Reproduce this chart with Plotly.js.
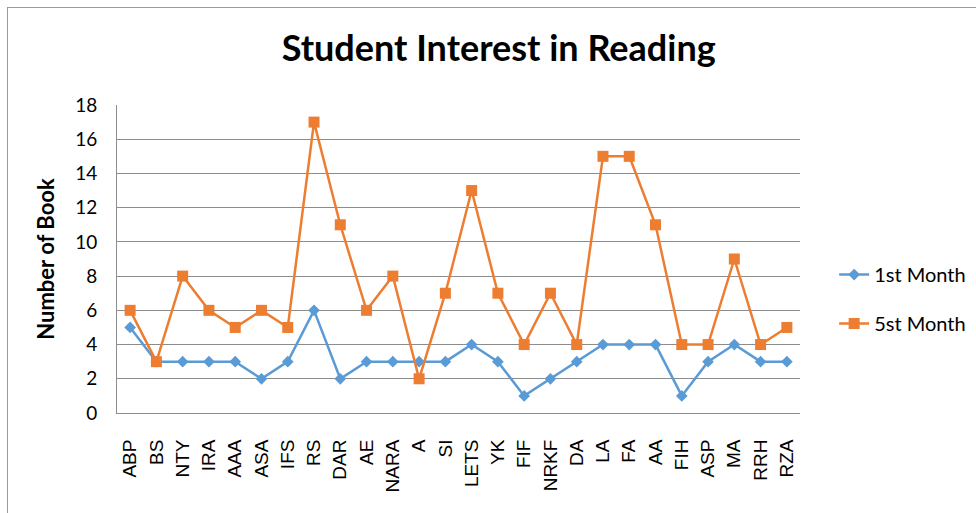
<!DOCTYPE html>
<html>
<head>
<meta charset="utf-8">
<script src="https://cdn.plot.ly/plotly-3.0.1.min.js"></script>
<style>
html,body{margin:0;padding:0;background:#fff;}
#wrap{position:relative;width:976px;height:513px;overflow:hidden;}
#chart{position:absolute;left:0;top:0;width:976px;height:513px;}
#frame{position:absolute;left:7px;top:7px;width:1000px;height:1000px;border-left:1px solid #9a9a9a;border-top:1px solid #9a9a9a;pointer-events:none;}
</style>
</head>
<body>
<div id="wrap"><div id="chart"></div><div id="frame"></div></div>
<script>
const categories = ["ABP","BS","NTY","IRA","AAA","ASA","IFS","RS","DAR","AE","NARA","A","SI","LETS","YK","FIF","NRKF","DA","LA","FA","AA","FIH","ASP","MA","RRH","RZA"];
const month1 = [5,3,3,3,3,2,3,6,2,3,3,3,3,4,3,1,2,3,4,4,4,1,3,4,3,3];
const month5 = [6,3,8,6,5,6,5,17,11,6,8,2,7,13,7,4,7,4,15,15,11,4,4,9,4,5];
const yTicks = [0,2,4,6,8,10,12,14,16,18];

const traces = [
  {x: categories, y: month1, name: "1st Month", type: "scatter", mode: "lines+markers",
   legendgroup: "a",
   line: {color: "#5B9BD5", width: 2.5},
   marker: {symbol: "diamond", size: 9, color: "#5B9BD5"}},
  {x: categories, y: month5, name: "5st Month", type: "scatter", mode: "lines+markers",
   legendgroup: "b",
   line: {color: "#ED7D31", width: 2.5},
   marker: {symbol: "square", size: 11, color: "#ED7D31"}}
];

const layout = {
  width: 976, height: 513,
  margin: {l: 117, r: 176, t: 105, b: 100, autoexpand: false},
  paper_bgcolor: "#ffffff", plot_bgcolor: "#ffffff",
  title: {text: "<b>Student Interest in Reading</b>", x: 0.511, xanchor: "center", y: 0.905, yanchor: "middle",
          font: {family: "Lato, 'Open Sans', sans-serif", size: 36, color: "#000"}},
  xaxis: {type: "category", range: [-0.5, 25.5], tickangle: -90, showgrid: false, automargin: false,
          showline: true, linecolor: "#8c8c8c", linewidth: 1, ticks: "", zeroline: false,
          ticklabelstandoff: 18,
          tickfont: {family: "'Liberation Sans', Arial, sans-serif", size: 19, color: "#000"}},
  yaxis: {range: [0, 18], tickvals: yTicks, showgrid: true, gridcolor: "#8c8c8c", gridwidth: 1, automargin: false,
          showline: true, linecolor: "#8c8c8c", linewidth: 1, zeroline: false, ticks: "",
          ticklen: 0, ticklabelstandoff: 15,
          tickfont: {family: "Lato, 'Open Sans', sans-serif", size: 19, color: "#000"},
          title: {text: "<b>Number of Book</b>", standoff: 14,
                  font: {family: "Lato, 'Open Sans', sans-serif", size: 22, color: "#000"}}},
  legend: {x: 1.05, xanchor: "left", y: 0.37, yanchor: "middle", tracegroupgap: 20,
           font: {family: "Lato, 'Open Sans', sans-serif", size: 20, color: "#000"},
           bgcolor: "rgba(0,0,0,0)"},
  showlegend: true
};

Plotly.newPlot("chart", traces, layout, {displayModeBar: false, staticPlot: true});
</script>
</body>
</html>
